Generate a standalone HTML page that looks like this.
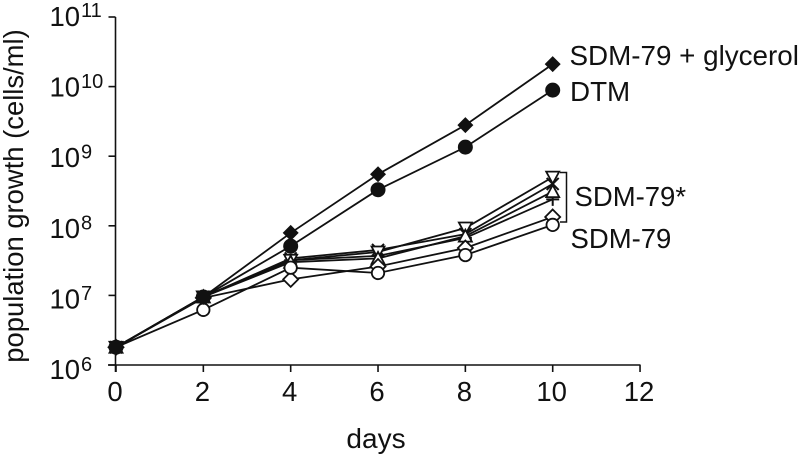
<!DOCTYPE html>
<html>
<head>
<meta charset="utf-8">
<style>
html,body{margin:0;padding:0;background:#fff;width:800px;height:456px;overflow:hidden}
svg{display:block}
text{font-family:"Liberation Sans",sans-serif;fill:#111}
</style>
</head>
<body>
<svg id="chart" width="800" height="456" viewBox="0 0 800 456" xmlns="http://www.w3.org/2000/svg">
<text transform="translate(23,196) rotate(-90)" text-anchor="middle" font-size="27.4">population growth (cells/ml)</text>
<text x="376" y="448" text-anchor="middle" font-size="28">days</text>
<text x="569.5" y="65" font-size="27.8">SDM-79 + glycerol</text>
<text x="570" y="101" font-size="27.8">DTM</text>
<text x="574.500" y="206" font-size="27.5">SDM-79*</text>
<text x="570.500" y="248" font-size="27.5">SDM-79</text>
<path d="M560 172.500H566.500V222H560" fill="none" stroke="#111" stroke-width="1.500"/>
</svg>
<script>
var days = [0, 2, 4, 6, 8, 10];
var xTickLabels = [0, 2, 4, 6, 8, 10, 12];
var yTickExponents = [6, 7, 8, 9, 10, 11];
var glycerol = [1.8e6, 9.5e6, 7.9e7, 5.5e8, 2.8e9, 2.1e10];
var dtm = [1.8e6, 9.5e6, 5.1e7, 3.3e8, 1.35e9, 8.9e9];
var triangleDownClone = [1.8e6, 9.5e6, 3.2e7, 4.2e7, 9.3e7, 5.0e8];
var crossClone = [1.8e6, 9.5e6, 3.4e7, 4.5e7, 7.6e7, 4.0e8];
var triangleUpClone = [1.8e6, 9.5e6, 3.0e7, 3.4e7, 7.1e7, 3.1e8];
var plusClone = [1.8e6, 9.5e6, 3.2e7, 3.7e7, 6.7e7, 2.4e8];
var diamondClone = [1.8e6, 9.2e6, 1.7e7, 2.6e7, 4.8e7, 1.34e8];
var circleSdm79 = [1.8e6, 6.2e6, 2.5e7, 2.1e7, 3.8e7, 1.03e8];

var svg = document.getElementById('chart');
var NS = 'http://www.w3.org/2000/svg';
var INK = '#111';

function xScale(d) { return 116 + d * 43.67; }
function yScale(v) { return 365 - (Math.log10(v) - 6) * 69.6; }
function yLabelBase(e) { return 379 - (e - 6) * 70.6; }
function yExpBase(e) { return 371 - (e - 6) * 70.8; }

function make(tag, attrs, parent) {
  var el = document.createElementNS(NS, tag);
  for (var k in attrs) el.setAttribute(k, attrs[k]);
  (parent || svg).appendChild(el);
  return el;
}

// axes
var yAxis = make('line', {x1: 115.5, x2: 115.5, y1: 17, y2: 372, stroke: INK, 'stroke-width': 1.6});


var xAxis = make('line', {x1: 108, x2: 640.5, y1: 365, y2: 365, stroke: INK, 'stroke-width': 1.6});



xTickLabels.forEach(function (d) {
  var x = xScale(d);
  var t = make('line', {x1: x, x2: x, y1: 365, y2: 372, stroke: INK, 'stroke-width': 1.6});
  
  
  var l = make('text', {x: x - 1, y: 401, 'text-anchor': 'middle', 'font-size': 27.5});
  
  
  l.textContent = d;
});

yTickExponents.forEach(function (e) {
  var y = yScale(Math.pow(10, e));
  var t = make('line', {x1: 108.500, x2: 115.500, y1: y, y2: y, stroke: INK, 'stroke-width': 1.6});
  
  
  var l = make('text', {x: 49.5, y: yLabelBase(e), 'font-size': 27.5});
  
  
  l.textContent = '10';
  var s = make('text', {x: 81, y: yExpBase(e), 'font-size': 20});
  
  
  s.textContent = e;
});

// marker shapes, centred on (x, y)
function drawMarker(kind, x, y, g) {
  var sw = {fill: '#fff', stroke: INK, 'stroke-width': 1.8};
  function pts(list) {
    return list.map(function (p) { return (x + p[0]) + ',' + (y + p[1]); }).join(' ');
  }
  function withStyle(o, style) {
    for (var k in style) o[k] = style[k];
    return o;
  }
  if (kind === 'filled-diamond') make('polygon', {points: pts([[0, -8], [8, 0], [0, 8], [-8, 0]]), fill: INK}, g);
  if (kind === 'filled-circle') make('circle', {cx: x, cy: y, r: 7.5, fill: INK}, g);
  if (kind === 'triangle-down') make('polygon', withStyle({points: pts([[-6.5, -5.5], [6.5, -5.5], [0, 6.5]])}, sw), g);
  if (kind === 'triangle-up') make('polygon', withStyle({points: pts([[-6.5, 5.5], [6.5, 5.5], [0, -6.5]])}, sw), g);
  if (kind === 'diamond') make('polygon', withStyle({points: pts([[0, -7.5], [7.5, 0], [0, 7.5], [-7.5, 0]])}, sw), g);
  if (kind === 'circle') make('circle', withStyle({cx: x, cy: y, r: 6.2}, sw), g);
  if (kind === 'cross') make('path', {d: 'M' + (x - 6) + ' ' + (y - 6) + 'L' + (x + 6) + ' ' + (y + 6) + 'M' + (x + 6) + ' ' + (y - 6) + 'L' + (x - 6) + ' ' + (y + 6), stroke: INK, 'stroke-width': 2, fill: 'none'}, g);
  if (kind === 'plus') make('path', {d: 'M' + (x - 6.5) + ' ' + y + 'H' + (x + 6.5) + 'M' + x + ' ' + (y - 6.5) + 'V' + (y + 6.5), stroke: INK, 'stroke-width': 2, fill: 'none'}, g);
}

function drawSeries(values, kind, name) {
  var g = make('g', {});
  
  
  var line = make('polyline', {
    points: values.map(function (v, i) { return xScale(days[i]) + ',' + yScale(v); }).join(' '),
    fill: 'none', stroke: INK, 'stroke-width': 1.8
  }, g);
  
  
  values.forEach(function (v, i) {
    drawMarker(kind, xScale(days[i]), yScale(v), g);
  });
}

drawSeries(plusClone, 'plus', 'series-plus');
drawSeries(crossClone, 'cross', 'series-cross');
drawSeries(triangleDownClone, 'triangle-down', 'series-triangle-down');
drawSeries(triangleUpClone, 'triangle-up', 'series-triangle-up');
drawSeries(diamondClone, 'diamond', 'series-diamond');
drawSeries(circleSdm79, 'circle', 'series-sdm79-circle');
drawSeries(glycerol, 'filled-diamond', 'series-sdm79-glycerol');
drawSeries(dtm, 'filled-circle', 'series-dtm');
</script>
</body>
</html>
